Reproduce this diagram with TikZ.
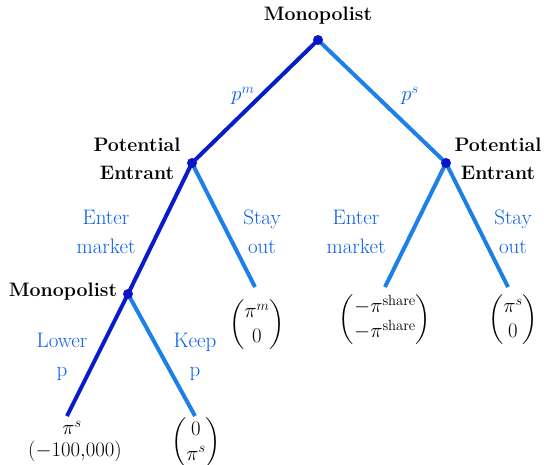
\documentclass[tikz,border=0pt]{standalone}
\usepackage{amsmath}
\definecolor{darkb}{RGB}{8,28,205}
\definecolor{lightb}{RGB}{28,128,232}
\definecolor{labb}{RGB}{10,95,235}
\definecolor{dotb}{RGB}{10,20,200}
\tikzset{
  every node/.style={font=\fontsize{21}{29}\selectfont, inner sep=0pt},
  player/.style={font=\fontsize{19.5}{28}\selectfont\bfseries, align=center, text=black},
  act/.style={text=labb, align=center},
  heavy/.style={draw=darkb, line width=4pt},
  light/.style={draw=lightb, line width=4pt},
  dot/.style={circle, fill=dotb, minimum size=10pt, inner sep=0pt},
  pay/.style={text=black, align=center}
}
\begin{document}
\begin{tikzpicture}[x=1pt,y=-1pt]
\useasboundingbox (0,0) rectangle (544,465);
\fill[white] (0,0) rectangle (544,465);
% decision nodes
\coordinate (R) at (318,40);
\coordinate (PL) at (192,163);
\coordinate (PR) at (446,163);
\coordinate (ML) at (128,294);
% terminal ends
\coordinate (SL) at (255,287);
\coordinate (ER) at (385,287);
\coordinate (SR) at (508,287);
\coordinate (LL) at (67,416);
\coordinate (KL) at (195,416);
% branches
\draw[light] (R) -- (PR);
\draw[light] (PL) -- (SL);
\draw[light] (PR) -- (ER);
\draw[light] (PR) -- (SR);
\draw[light] (ML) -- (KL);
\draw[heavy] (R) -- (PL);
\draw[heavy] (PL) -- (ML);
\draw[heavy] (ML) -- (LL);
\node[dot] (dR) at (R) {};
\node[dot] (dPL) at (PL) {};
\node[dot] (dPR) at (PR) {};
\node[dot] (dML) at (ML) {};
% players
\node[player] (tR) at (318,16) {Monopolist};
\node[player] (tPL) at (137,159) {Potential\\Entrant};
\node[player] (tPR) at (498,159) {Potential\\Entrant};
\node[player] (tML) at (63,292) {Monopolist};
% actions
\node[act] (aPm) at (243,96) {$p^{m}$};
\node[act] (aPs) at (410,96) {$p^{s}$};
\node[act] (aEL) at (106,232) {Enter\\market};
\node[act] (aSL) at (262,232) {Stay\\out};
\node[act] (aER) at (356,232) {Enter\\market};
\node[act] (aSR) at (513,232) {Stay\\out};
\node[act] (aLo) at (62,357) {Lower\\p};
\node[act] (aKe) at (195,357) {Keep\\p};
% payoffs
\renewcommand{\arraystretch}{0.85}
\node[pay] (yS) at (257,325) {$\left(\begin{array}{@{}c@{}}\pi^{m}\\ 0\end{array}\right)$};
\node[pay] (yE) at (385,320) {$\left(\begin{array}{@{}c@{}}-\pi^{\text{share}}\\ -\pi^{\text{share}}\end{array}\right)$};
\node[pay] (yS2) at (513,320) {$\left(\begin{array}{@{}c@{}}\pi^{s}\\ 0\end{array}\right)$};
\node[pay] (yL1) at (72,428) {$\pi^{s}$};
\node[pay] (yL2) at (75,451) {$\left(-100{,}000\right)$};
\node[pay] (yK) at (196,443) {$\left(\begin{array}{@{}c@{}}0\\ \pi^{s}\end{array}\right)$};
\end{tikzpicture}
\end{document}
